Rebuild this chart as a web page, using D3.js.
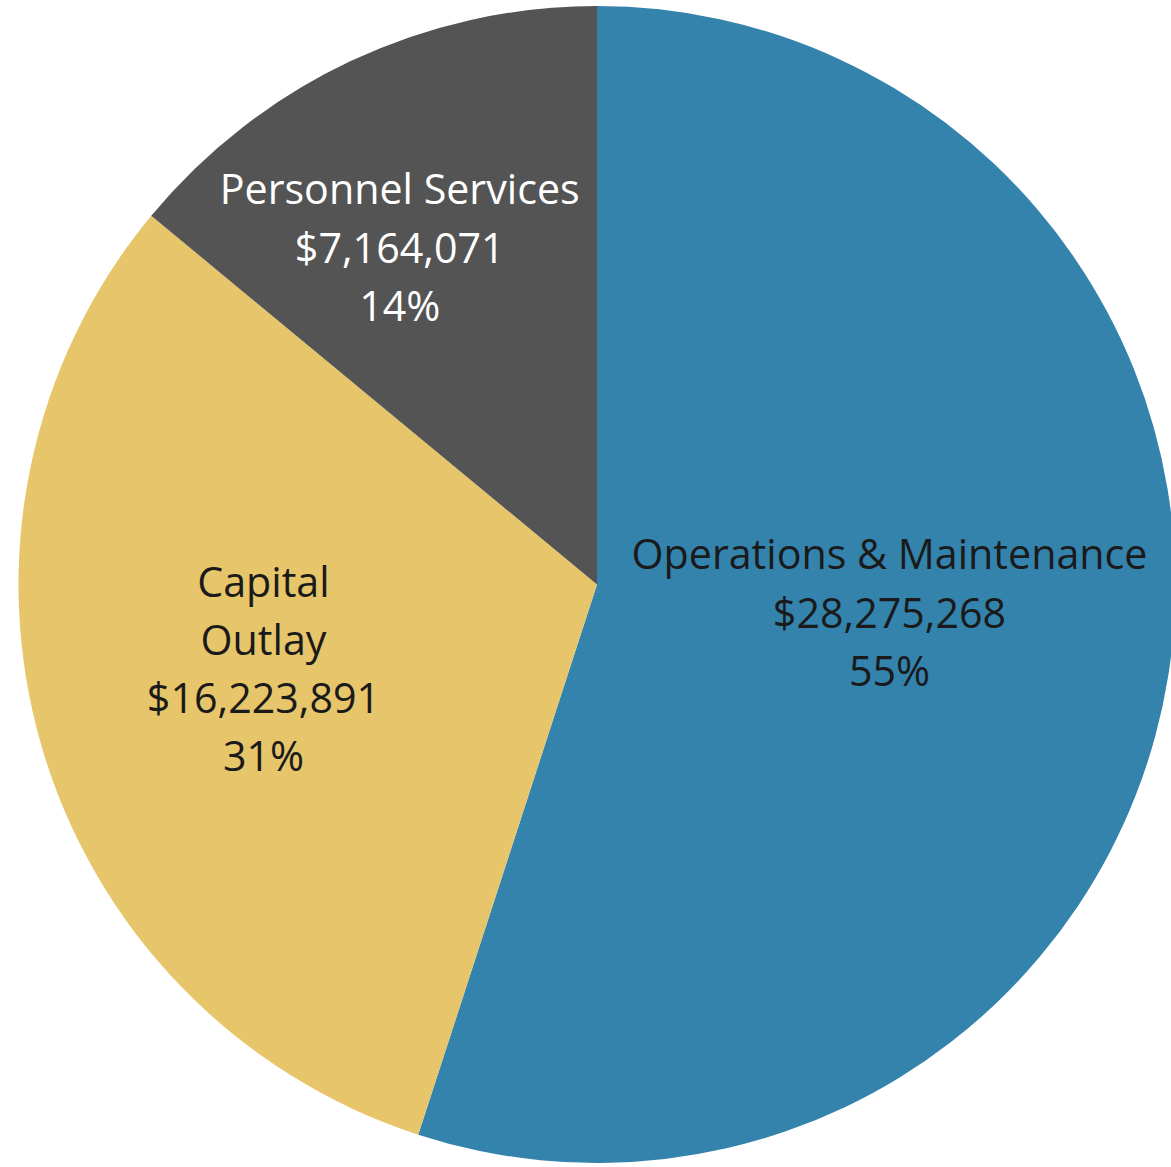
<!DOCTYPE html>
<html><head><meta charset="utf-8">
<script src="https://cdn.jsdelivr.net/npm/d3@7"></script>
<style>html,body{margin:0;padding:0;background:#fff;overflow:hidden}</style>
</head><body>
<svg id="c" width="1171" height="1167"></svg>
<script>
const categories = ["Operations & Maintenance", "Capital Outlay", "Personnel Services"];
const labelLines = [["Operations & Maintenance"], ["Capital", "Outlay"], ["Personnel Services"]];
const amounts = [28275268, 16223891, 7164071];
const percents = [55, 31, 14];
const colors = ["#3383ad", "#e7c56a", "#545454"];
const textColors = ["#1a1a1a", "#1a1a1a", "#ffffff"];

// layout (not data): label block centre as [radius fraction, angle in degrees clockwise from top]
const labelPolar = [[0.508, 95.6], [0.595, 255.7], [0.674, 329.6]];

const svg = d3.select("#c");
const cx = 597, cy = 584.5, r = 578.5;
const g = svg.append("g").attr("transform", `translate(${cx},${cy})`);
const data = categories.map((c, i) => ({c, v: percents[i], i}));
const pie = d3.pie().value(d => d.v).sort(null);
const arcs = pie(data);
const arc = d3.arc().innerRadius(0).outerRadius(r);
g.selectAll("path").data(arcs).join("path")
  .attr("d", arc).attr("fill", d => colors[d.data.i]);

const fmt = d3.format("$,");
const lh = 58.3;
arcs.forEach(a => {
  const i = a.data.i;
  const lines = labelLines[i].concat([fmt(amounts[i]), percents[i] + "%"]);
  const [f, deg] = labelPolar[i];
  const ang = deg * Math.PI / 180;
  const x = Math.sin(ang) * r * f, y = -Math.cos(ang) * r * f;
  const t = g.append("text").attr("text-anchor", "middle")
    .attr("font-family", "'Open Sans', sans-serif").attr("font-size", 41.2)
    .attr("fill", textColors[i]);
  const y0 = y - (lines.length - 1) * lh / 2;
  lines.forEach((l, k) => t.append("tspan").attr("x", x).attr("y", y0 + k * lh).attr("dy", "0.35em").text(l));
});
</script>
</body></html>
